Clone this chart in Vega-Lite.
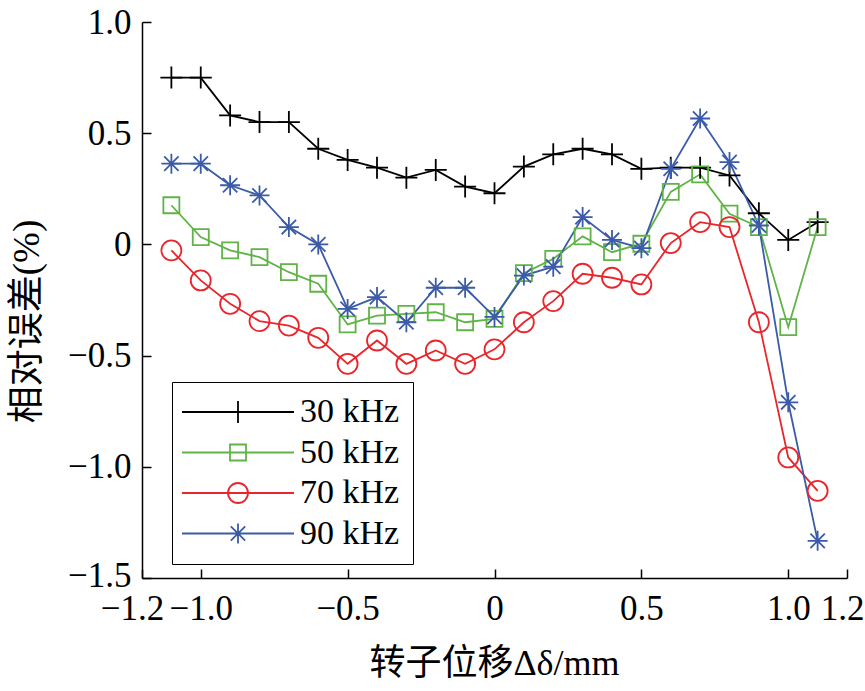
{
  "$schema": "https://vega.github.io/schema/vega-lite/v6.json",
  "width": 705,
  "height": 556,
  "autosize": {"type": "none"},
  "padding": {"left": 142, "top": 22, "right": 18, "bottom": 113},
  "background": "white",
  "config": {
    "view": {"stroke": null},
    "axis": {
      "grid": false,
      "labelFont": "Liberation Serif",
      "labelFontSize": 35,
      "labelColor": "black",
      "domainColor": "black",
      "domainWidth": 1.5,
      "tickColor": "black",
      "tickWidth": 1.5,
      "tickSize": -9,
      "titleFont": "Liberation Serif, Noto Sans CJK SC",
      "titleFontSize": 36,
      "titleFontWeight": "normal",
      "titleColor": "black"
    }
  },
  "data": {
    "values": [
      {"x": -1.1, "f": "30 kHz", "y": 0.75}, {"x": -1.0, "f": "30 kHz", "y": 0.75}, {"x": -0.9, "f": "30 kHz", "y": 0.58}, {"x": -0.8, "f": "30 kHz", "y": 0.55}, {"x": -0.7, "f": "30 kHz", "y": 0.55}, {"x": -0.6, "f": "30 kHz", "y": 0.43}, {"x": -0.5, "f": "30 kHz", "y": 0.38}, {"x": -0.4, "f": "30 kHz", "y": 0.345}, {"x": -0.3, "f": "30 kHz", "y": 0.30}, {"x": -0.2, "f": "30 kHz", "y": 0.335}, {"x": -0.1, "f": "30 kHz", "y": 0.26}, {"x": 0.0, "f": "30 kHz", "y": 0.23}, {"x": 0.1, "f": "30 kHz", "y": 0.35}, {"x": 0.2, "f": "30 kHz", "y": 0.405}, {"x": 0.3, "f": "30 kHz", "y": 0.43}, {"x": 0.4, "f": "30 kHz", "y": 0.405}, {"x": 0.5, "f": "30 kHz", "y": 0.34}, {"x": 0.6, "f": "30 kHz", "y": 0.345}, {"x": 0.7, "f": "30 kHz", "y": 0.345}, {"x": 0.8, "f": "30 kHz", "y": 0.31}, {"x": 0.9, "f": "30 kHz", "y": 0.14}, {"x": 1.0, "f": "30 kHz", "y": 0.02}, {"x": 1.1, "f": "30 kHz", "y": 0.10},
      {"x": -1.1, "f": "50 kHz", "y": 0.176}, {"x": -1.0, "f": "50 kHz", "y": 0.033}, {"x": -0.9, "f": "50 kHz", "y": -0.027}, {"x": -0.8, "f": "50 kHz", "y": -0.057}, {"x": -0.7, "f": "50 kHz", "y": -0.125}, {"x": -0.6, "f": "50 kHz", "y": -0.177}, {"x": -0.5, "f": "50 kHz", "y": -0.36}, {"x": -0.4, "f": "50 kHz", "y": -0.32}, {"x": -0.3, "f": "50 kHz", "y": -0.312}, {"x": -0.2, "f": "50 kHz", "y": -0.305}, {"x": -0.1, "f": "50 kHz", "y": -0.35}, {"x": 0.0, "f": "50 kHz", "y": -0.335}, {"x": 0.1, "f": "50 kHz", "y": -0.129}, {"x": 0.2, "f": "50 kHz", "y": -0.065}, {"x": 0.3, "f": "50 kHz", "y": 0.036}, {"x": 0.4, "f": "50 kHz", "y": -0.035}, {"x": 0.5, "f": "50 kHz", "y": 0.003}, {"x": 0.6, "f": "50 kHz", "y": 0.236}, {"x": 0.7, "f": "50 kHz", "y": 0.315}, {"x": 0.8, "f": "50 kHz", "y": 0.138}, {"x": 0.9, "f": "50 kHz", "y": 0.078}, {"x": 1.0, "f": "50 kHz", "y": -0.372}, {"x": 1.1, "f": "50 kHz", "y": 0.078},
      {"x": -1.1, "f": "70 kHz", "y": -0.027}, {"x": -1.0, "f": "70 kHz", "y": -0.162}, {"x": -0.9, "f": "70 kHz", "y": -0.267}, {"x": -0.8, "f": "70 kHz", "y": -0.345}, {"x": -0.7, "f": "70 kHz", "y": -0.365}, {"x": -0.6, "f": "70 kHz", "y": -0.42}, {"x": -0.5, "f": "70 kHz", "y": -0.537}, {"x": -0.4, "f": "70 kHz", "y": -0.432}, {"x": -0.3, "f": "70 kHz", "y": -0.537}, {"x": -0.2, "f": "70 kHz", "y": -0.477}, {"x": -0.1, "f": "70 kHz", "y": -0.537}, {"x": 0.0, "f": "70 kHz", "y": -0.472}, {"x": 0.1, "f": "70 kHz", "y": -0.35}, {"x": 0.2, "f": "70 kHz", "y": -0.255}, {"x": 0.3, "f": "70 kHz", "y": -0.132}, {"x": 0.4, "f": "70 kHz", "y": -0.15}, {"x": 0.5, "f": "70 kHz", "y": -0.18}, {"x": 0.6, "f": "70 kHz", "y": 0.006}, {"x": 0.7, "f": "70 kHz", "y": 0.10}, {"x": 0.8, "f": "70 kHz", "y": 0.078}, {"x": 0.9, "f": "70 kHz", "y": -0.35}, {"x": 1.0, "f": "70 kHz", "y": -0.958}, {"x": 1.1, "f": "70 kHz", "y": -1.108},
      {"x": -1.1, "f": "90 kHz", "y": 0.363}, {"x": -1.0, "f": "90 kHz", "y": 0.363}, {"x": -0.9, "f": "90 kHz", "y": 0.266}, {"x": -0.8, "f": "90 kHz", "y": 0.22}, {"x": -0.7, "f": "90 kHz", "y": 0.078}, {"x": -0.6, "f": "90 kHz", "y": 0.0}, {"x": -0.5, "f": "90 kHz", "y": -0.29}, {"x": -0.4, "f": "90 kHz", "y": -0.237}, {"x": -0.3, "f": "90 kHz", "y": -0.35}, {"x": -0.2, "f": "90 kHz", "y": -0.195}, {"x": -0.1, "f": "90 kHz", "y": -0.195}, {"x": 0.0, "f": "90 kHz", "y": -0.326}, {"x": 0.1, "f": "90 kHz", "y": -0.14}, {"x": 0.2, "f": "90 kHz", "y": -0.10}, {"x": 0.3, "f": "90 kHz", "y": 0.123}, {"x": 0.4, "f": "90 kHz", "y": 0.02}, {"x": 0.5, "f": "90 kHz", "y": -0.017}, {"x": 0.6, "f": "90 kHz", "y": 0.34}, {"x": 0.7, "f": "90 kHz", "y": 0.566}, {"x": 0.8, "f": "90 kHz", "y": 0.37}, {"x": 0.9, "f": "90 kHz", "y": 0.085}, {"x": 1.0, "f": "90 kHz", "y": -0.71}, {"x": 1.1, "f": "90 kHz", "y": -1.333}
    ]
  },
  "encoding": {
    "x": {
      "field": "x", "type": "quantitative",
      "scale": {"domain": [-1.2, 1.2], "nice": false, "zero": false},
      "axis": {
        "title": "转子位移Δδ/mm",
        "values": [-1.2, -1.0, -0.5, 0, 0.5, 1.0, 1.2],
        "labelExpr": "datum.value == 0 ? '0' : replace(format(datum.value, '.1f'), '-', '−')",
        "labelPadding": 22,
        "labelOffset": {"condition": [{"test": "datum.value < -1.1", "value": -10}, {"test": "datum.value > 1.1", "value": -5}], "value": 0},
        "labelFlush": false,
        "labelOverlap": false,
        "titleX": 352,
        "titleY": 85,
        "titleBaseline": "middle"
      }
    },
    "y": {
      "field": "y", "type": "quantitative",
      "scale": {"domain": [-1.5, 1.0], "nice": false, "zero": false},
      "axis": {
        "title": "相对误差(%)",
        "titleFontSize": 37,
        "values": [-1.5, -1.0, -0.5, 0, 0.5, 1.0],
        "labelExpr": "datum.value == 0 ? '0' : replace(format(datum.value, '.1f'), '-', '−')",
        "labelPadding": 20,
        "labelOffset": {"condition": {"test": "datum.value < -1.4", "value": -3}, "value": 0},
        "labelFlush": false,
        "labelOverlap": false,
        "titleX": -115,
        "titleY": 299,
        "titleAngle": -90,
        "titleAlign": "center",
        "titleBaseline": "middle"
      }
    },
    "color": {
      "field": "f", "type": "nominal",
      "scale": {"domain": ["30 kHz", "50 kHz", "70 kHz", "90 kHz"], "range": ["#000000", "#5fb347", "#e8262b", "#3b5ba8"]},
      "legend": {
        "orient": "none",
        "legendX": 30,
        "legendY": 360,
        "title": null,
        "strokeColor": "black",
        "fillColor": "white",
        "padding": 13,
        "labelFont": "Liberation Serif",
        "labelFontSize": 34,
        "labelColor": "black",
        "labelOffset": 81,
        "rowPadding": 6.5,
        "symbolSize": 256,
        "symbolStrokeWidth": 1.8,
        "symbolFillColor": "transparent",
        "encode": {
          "symbols": {
            "update": {
              "x": {"value": 53},
              "fill": {"value": "transparent"},
              "shape": {"signal": "datum.value == '30 kHz' ? 'M-7,0L7,0M0,-1.375L0,1.375' : datum.value == '50 kHz' ? 'M-7,0L7,0M-1,-1L1,-1L1,1L-1,1Z' : datum.value == '70 kHz' ? 'M-7,0L7,0M1.25,0A1.25,1.25 0 1,1 -1.25,0A1.25,1.25 0 1,1 1.25,0Z' : 'M-7,0L7,0M0,-1.25L0,1.25M-0.9,-0.9L0.9,0.9M-0.9,0.9L0.9,-0.9'"}
            }
          }
        }
      }
    }
  },
  "layer": [
    {
      "mark": {"type": "line", "strokeWidth": 1.8}
    },
    {
      "transform": [{"filter": "datum.f == '30 kHz'"}],
      "mark": {"type": "point", "filled": false, "strokeWidth": 1.8, "size": 256, "opacity": 1, "shape": "M-1.375,0L1.375,0M0,-1.375L0,1.375"}
    },
    {
      "transform": [{"filter": "datum.f == '50 kHz'"}],
      "mark": {"type": "point", "filled": false, "strokeWidth": 1.8, "size": 256, "opacity": 1, "shape": "M-1,-1L1,-1L1,1L-1,1Z"}
    },
    {
      "transform": [{"filter": "datum.f == '70 kHz'"}],
      "mark": {"type": "point", "filled": false, "strokeWidth": 1.8, "size": 256, "opacity": 1, "shape": "M1.25,0A1.25,1.25 0 1,1 -1.25,0A1.25,1.25 0 1,1 1.25,0Z"}
    },
    {
      "transform": [{"filter": "datum.f == '90 kHz'"}],
      "mark": {"type": "point", "filled": false, "strokeWidth": 1.8, "size": 256, "opacity": 1, "shape": "M-1.25,0L1.25,0M0,-1.25L0,1.25M-0.9,-0.9L0.9,0.9M-0.9,0.9L0.9,-0.9"}
    }
  ]
}
